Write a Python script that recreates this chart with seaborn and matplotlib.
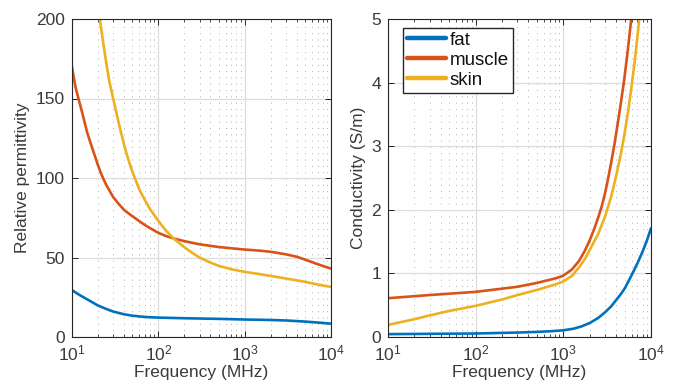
import matplotlib
matplotlib.use("Agg")
import matplotlib.pyplot as plt
import numpy as np
import pandas as pd
import seaborn as sns
from matplotlib.ticker import LogLocator, NullFormatter, FixedLocator

sns.set_theme(style="white")
plt.rcParams['font.family'] = ['Liberation Sans', 'DejaVu Sans']
plt.rcParams['mathtext.fontset'] = 'custom'
plt.rcParams['mathtext.rm'] = 'Liberation Sans'
plt.rcParams['mathtext.it'] = 'Liberation Sans'

tissues = ["fat", "muscle", "skin"]
colors = ["#0072BD", "#D95319", "#EDB120"]

# Relative permittivity (frequency in MHz)
perm_fat_f = [10, 11, 12, 14, 16, 20, 25, 30, 40, 50, 70, 100, 200, 500, 1000, 2000, 3000, 5000, 7000, 10000]
perm_fat_v = [29.5, 28, 26.7, 24.6, 22.8, 19.8, 17.6, 16, 14.3, 13.4, 12.6, 12.2, 11.8, 11.4, 11.0, 10.7, 10.4, 9.7, 9.1, 8.4]
perm_mus_f = [10, 10.5, 11, 12, 13, 14, 15, 17, 20, 22, 25, 30, 35, 40, 45, 50, 60, 70, 80, 100, 120, 150, 200,
              300, 500, 700, 1000, 1500, 2000, 3000, 4000, 5000, 7000, 10000]
perm_mus_v = [170, 163, 157, 149, 142, 135, 128.5, 119.5, 108, 102, 95.5, 88, 83.5, 80, 77.8, 76, 72.9, 70.4, 68.5, 65.5,
              63.7, 62, 60.3, 58.3, 56.6, 55.8, 55, 54.3, 53.6, 52, 50.5, 48.7, 45.8, 43]
perm_skin_f = [20, 21, 23, 25, 27, 30, 35, 40, 45, 50, 60, 70, 80, 100, 120, 150, 200, 250, 300, 400, 500, 700,
               1000, 1500, 2000, 3000, 5000, 7000, 10000]
perm_skin_v = [208, 200, 185, 172, 161, 150, 134, 121, 111.5, 104, 93, 86, 80.5, 73, 67.5, 62, 56.5, 52.7, 50,
               46.8, 44.8, 42.6, 41, 39.5, 38.4, 36.8, 34.7, 33, 31.5]

# Conductivity (S/m)
cond_fat_f = [10, 100, 300, 500, 700, 1000, 1300, 1600, 2000, 2500, 3000, 3500, 4000, 4500, 5000, 6000, 7000, 8000, 9000, 10000]
cond_fat_v = [0.045, 0.055, 0.07, 0.08, 0.09, 0.105, 0.13, 0.165, 0.22, 0.3, 0.39, 0.48, 0.58, 0.67, 0.76, 0.97, 1.16, 1.34, 1.52, 1.71]
cond_mus_f = [10, 30, 100, 200, 300, 500, 700, 850, 1000, 1250, 1500, 1750, 2000, 2250, 2500, 2750, 3000, 3250,
              3500, 3850, 4200, 4500, 4950, 5430, 5900, 6200]
cond_mus_v = [0.61, 0.66, 0.71, 0.76, 0.79, 0.85, 0.9, 0.93, 0.965, 1.06, 1.19, 1.35, 1.52, 1.7, 1.88, 2.06, 2.27,
              2.5, 2.73, 3.05, 3.38, 3.65, 4.05, 4.5, 4.95, 5.25]
cond_skin_f = [10, 20, 30, 50, 100, 200, 300, 500, 700, 850, 1000, 1250, 1500, 1750, 2000, 2500, 3000, 3500, 4000,
               4500, 5000, 5500, 6000, 6500, 7000, 7300, 7700]
cond_skin_v = [0.19, 0.28, 0.34, 0.41, 0.49, 0.59, 0.66, 0.74, 0.8, 0.835, 0.875, 0.96, 1.09, 1.22, 1.37, 1.62, 1.9,
               2.2, 2.53, 2.86, 3.2, 3.56, 3.94, 4.32, 4.72, 4.97, 5.3]

def make_df(series):
    rows = []
    for name, (f, v) in zip(tissues, series):
        rows.append(pd.DataFrame({"tissue": name, "freq": f, "value": v}))
    return pd.concat(rows, ignore_index=True)

df_perm = make_df([(perm_fat_f, perm_fat_v), (perm_mus_f, perm_mus_v), (perm_skin_f, perm_skin_v)])
df_cond = make_df([(cond_fat_f, cond_fat_v), (cond_mus_f, cond_mus_v), (cond_skin_f, cond_skin_v)])

text_col = "#3a3a3a"
fs = 12.5

fig = plt.figure(figsize=(6.77, 3.89), dpi=100)
ax1 = fig.add_axes([72/677, 1-337/389, 259/677, 318/389])
ax2 = fig.add_axes([388/677, 1-337/389, 263/677, 318/389])

pal = dict(zip(tissues, colors))
sns.lineplot(data=df_perm, x="freq", y="value", hue="tissue", palette=pal, estimator=None,
             sort=True, linewidth=1.9, ax=ax1, legend=False)
sns.lineplot(data=df_cond, x="freq", y="value", hue="tissue", palette=pal, estimator=None,
             sort=True, linewidth=1.9, ax=ax2, legend=True)

for ax, ylim, yticks, ylabel in [(ax1, (0, 200), [0, 50, 100, 150, 200], "Relative permittivity"),
                                 (ax2, (0, 5), [0, 1, 2, 3, 4, 5], "Conductivity (S/m)")]:
    ax.set_xscale("log")
    ax.set_xlim(10, 1e4)
    ax.set_ylim(*ylim)
    ax.set_yticks(yticks)
    ax.xaxis.set_major_locator(FixedLocator([10, 100, 1000, 10000]))
    ax.xaxis.set_minor_locator(LogLocator(base=10, subs=np.arange(2, 10), numticks=20))
    ax.xaxis.set_minor_formatter(NullFormatter())
    ax.set_xlabel("Frequency (MHz)", fontsize=fs, color=text_col, labelpad=1)
    ax.set_ylabel(ylabel, fontsize=fs, color=text_col, labelpad=4)
    ax.grid(which="major", axis="both", color="#dddddd", linewidth=0.9, linestyle="-")
    ax.grid(which="minor", axis="x", color="#b0b0b0", linewidth=0.7, linestyle=(0, (1, 5.5)))
    ax.set_axisbelow(True)
    ax.tick_params(which="both", direction="in", top=True, right=True, bottom=True, left=True,
                   colors="#262626", labelcolor=text_col, labelsize=fs)
    ax.tick_params(which="major", length=4, width=0.7, pad=5)
    ax.tick_params(which="minor", length=2.2, width=0.6)
    for s in ax.spines.values():
        s.set_color("#262626")
        s.set_linewidth(0.8)
    ax.set_facecolor("white")

handles, labels = ax2.get_legend_handles_labels()
leg = ax2.legend(handles, labels, loc="upper left", bbox_to_anchor=((403-388)/263, (337-28)/318),
                 borderaxespad=0, fontsize=13.5, frameon=True, fancybox=False, framealpha=1,
                 edgecolor="#262626", handlelength=2.1, handletextpad=0.2, labelspacing=0.15,
                 borderpad=0.2)
leg.get_frame().set_linewidth(1.0)
for t in leg.get_texts():
    t.set_color("#111111")
for l in leg.get_lines():
    l.set_linewidth(3.2)

fig.savefig("out.png", dpi=100, facecolor="white")
